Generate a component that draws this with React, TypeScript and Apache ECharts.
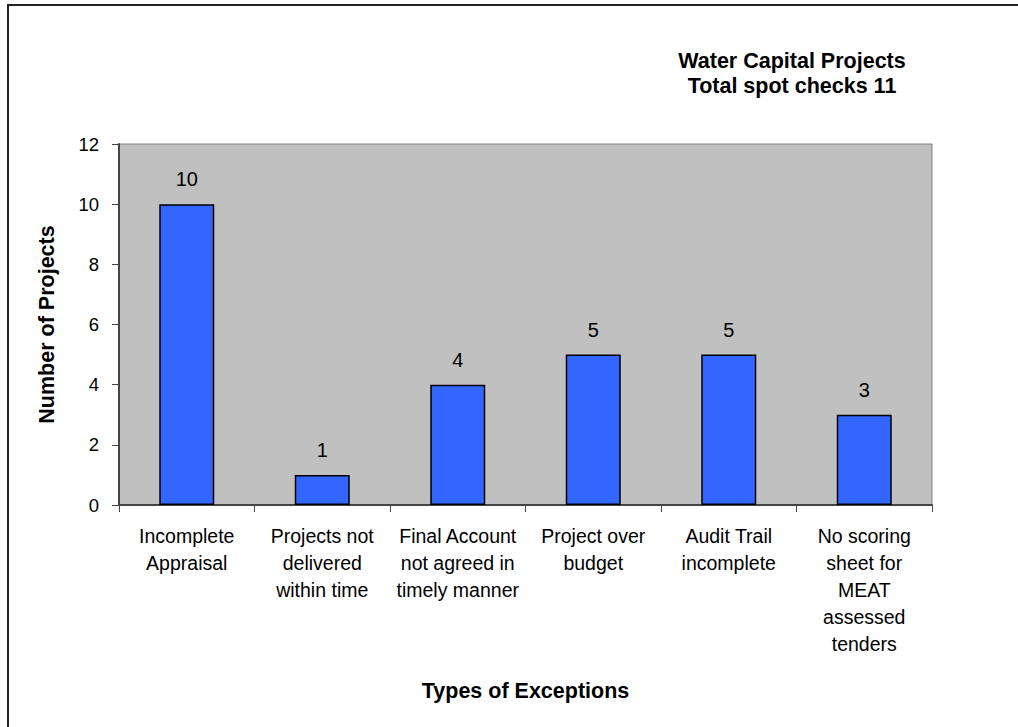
import React, { useEffect, useRef } from "react";
import * as echarts from "echarts";

const categories = [
  "Incomplete\nAppraisal",
  "Projects not\ndelivered\nwithin time",
  "Final Account\nnot agreed in\ntimely manner",
  "Project over\nbudget",
  "Audit Trail\nincomplete",
  "No scoring\nsheet for\nMEAT\nassessed\ntenders",
];
const values = [10, 1, 4, 5, 5, 3];
const titleLines = ["Water Capital Projects", "Total spot checks 11"];
const yAxisName = "Number of Projects";
const xAxisName = "Types of Exceptions";

const FONT = "'Liberation Sans', Arial, Helvetica, sans-serif";

export default function App() {
  const ref = useRef<HTMLDivElement>(null);
  useEffect(() => {
    if (!ref.current) return;
    const chart = echarts.init(ref.current, null, { renderer: "svg" });
    chart.setOption({
      animation: false,
      backgroundColor: "#ffffff",
      textStyle: { fontFamily: FONT },
      title: {
        text: titleLines.join("\n"),
        left: 787,
        top: 43,
        textAlign: "center",
        textStyle: {
          fontFamily: FONT,
          fontSize: 21.5,
          fontWeight: "bold",
          color: "#000",
          lineHeight: 25,
        },
      },
      graphic: [
        {
          type: "polyline",
          shape: { points: [[8, 740], [8, 5], [1030, 5]] },
          style: { stroke: "#222", lineWidth: 2, fill: "none" },
        },
      ],
      grid: {
        left: 119,
        top: 144,
        right: 86,
        bottom: 222,
        show: true,
        backgroundColor: "#C0C0C0",
        borderColor: "#808080",
        borderWidth: 1,
      },
      xAxis: {
        type: "category",
        data: categories,
        name: xAxisName,
        nameLocation: "middle",
        nameGap: 175,
        nameTextStyle: { fontFamily: FONT, fontSize: 21.5, fontWeight: "bold", color: "#000" },
        axisLine: { show: true, lineStyle: { color: "#444", width: 2 } },
        axisTick: { show: true, length: 7, alignWithLabel: false, lineStyle: { color: "#444" } },
        axisLabel: {
          interval: 0,
          fontFamily: FONT,
          fontSize: 19.5,
          lineHeight: 27,
          color: "#000",
          margin: 17,
        },
        splitLine: { show: false },
      },
      yAxis: {
        type: "value",
        min: 0,
        max: 12,
        interval: 2,
        name: yAxisName,
        nameLocation: "middle",
        nameGap: 61,
        nameTextStyle: { fontFamily: FONT, fontSize: 21.5, fontWeight: "bold", color: "#000" },
        axisLine: { show: true, lineStyle: { color: "#444", width: 2 } },
        axisTick: { show: true, length: 7, lineStyle: { color: "#444" } },
        axisLabel: { fontFamily: FONT, fontSize: 18.5, color: "#000", margin: 20 },
        splitLine: { show: false },
      },
      series: [
        {
          type: "bar",
          data: values,
          barWidth: 55,
          itemStyle: { color: "#3366FF", borderColor: "#000", borderWidth: 1.5 },
          label: {
            show: true,
            position: "top",
            distance: 15,
            fontFamily: FONT,
            fontSize: 20,
            color: "#000",
          },
        },
      ],
    });
    return () => chart.dispose();
  }, []);
  return (
    <div
      ref={ref}
      style={{ position: "fixed", left: 0, top: 0, width: 1018, height: 727 }}
    />
  );
}
